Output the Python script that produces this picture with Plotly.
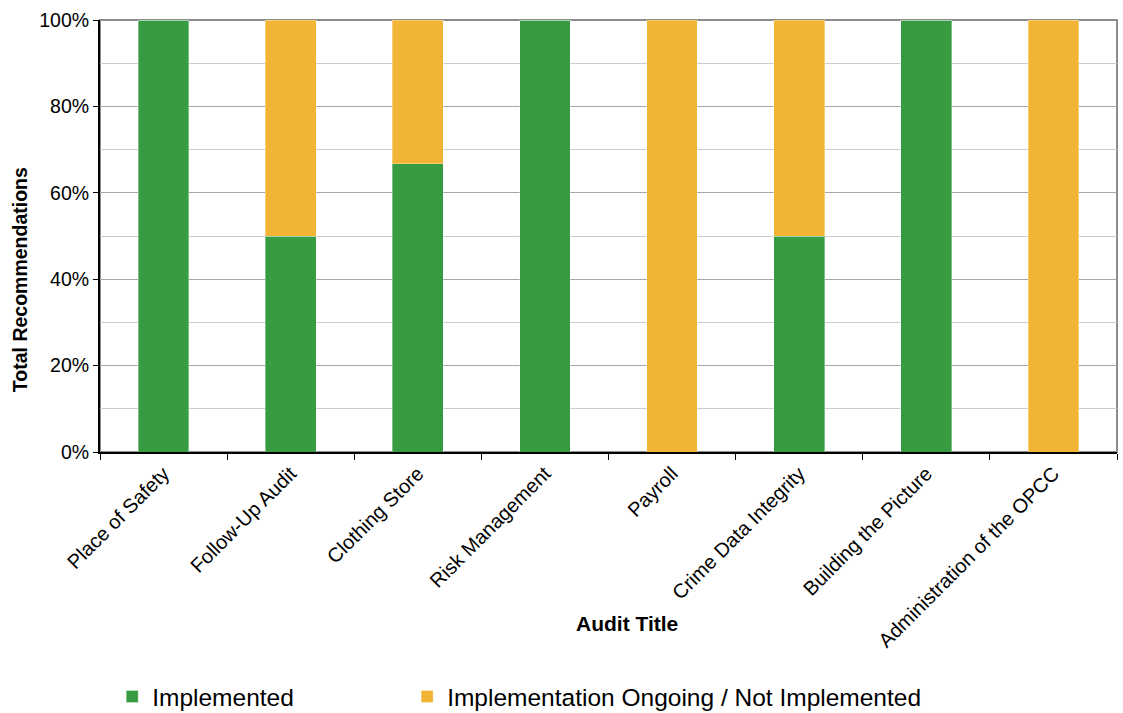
import plotly.graph_objects as go

categories = ["Place of Safety", "Follow-Up Audit", "Clothing Store", "Risk Management",
              "Payroll", "Crime Data Integrity", "Building the Picture", "Administration of the OPCC"]
implemented = [1.0, 0.5, 0.6667, 1.0, 0.0, 0.5, 1.0, 0.0]
ongoing = [0.0, 0.5, 0.3333, 0.0, 1.0, 0.5, 0.0, 1.0]

GREEN = "#379b42"
ORANGE = "#f1b434"
FONT = "Arial, 'Liberation Sans', sans-serif"

fig = go.Figure()
fig.add_trace(go.Bar(x=categories, y=implemented, name="Implemented", legend="legend",
                     marker=dict(color=GREEN, line=dict(color="rgba(255,255,255,0.35)", width=1))))
fig.add_trace(go.Bar(x=categories, y=ongoing, name="Implementation Ongoing / Not Implemented",
                     legend="legend2",
                     marker=dict(color=ORANGE, line=dict(color="rgba(255,255,255,0.35)", width=1))))

leg_common = dict(orientation="h", xanchor="left", yanchor="middle",
                  font=dict(size=24.5, family=FONT), bgcolor="rgba(0,0,0,0)")

fig.update_layout(
    barmode="stack",
    bargap=0.6,
    width=1123, height=713,
    margin=dict(l=100, r=6, t=20, b=261, autoexpand=False),
    paper_bgcolor="white", plot_bgcolor="white",
    font=dict(family=FONT, color="black"),
    showlegend=True,
    legend=dict(x=0.012, y=-0.566, **leg_common),
    legend2=dict(x=0.302, y=-0.566, **leg_common),
    shapes=[dict(type="rect", xref="paper", yref="paper", x0=0, x1=1, y0=0, y1=1,
                 line=dict(color="#8c8c8c", width=2), layer="below")],
    annotations=[
        dict(text="<b>Audit Title</b>", xref="paper", yref="paper", x=0.518, y=-0.396,
             xanchor="center", yanchor="middle", showarrow=False, font=dict(size=21, family=FONT)),
        dict(text="<b>Total Recommendations</b>", xref="paper", yref="paper", x=-0.0787, y=0.40,
             xanchor="center", yanchor="middle", textangle=-90, showarrow=False,
             font=dict(size=19.5, family=FONT)),
    ],
)

fig.update_yaxes(range=[0, 1], dtick=0.2, tickformat=".0%", showgrid=True, gridcolor="#a6a6a6",
                 gridwidth=1, ticks="outside", ticklen=5, tickcolor="black",
                 showline=True, linecolor="black", linewidth=2, zeroline=False,
                 tickfont=dict(size=19.5, family=FONT),
                 minor=dict(dtick=0.1, showgrid=True, gridcolor="#cccccc", gridwidth=1, ticks=""))
fig.update_xaxes(tickangle=-45, ticks="outside", tickson="boundaries", ticklen=6, tickcolor="black",
                 showline=True, linecolor="black", linewidth=2, showgrid=False,
                 tickfont=dict(size=20, family=FONT))

fig.write_html("out.html")
